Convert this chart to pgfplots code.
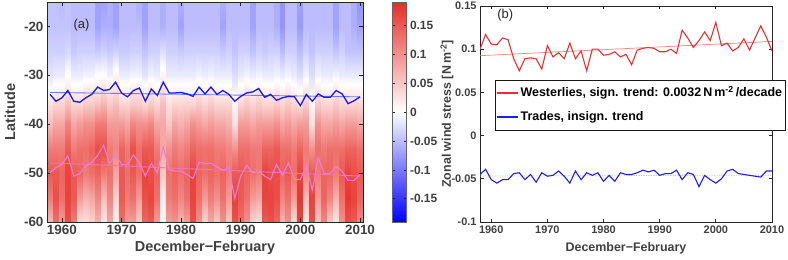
\documentclass[border=0pt]{standalone}
\usepackage{fontspec}
\setmainfont{Liberation Sans}
\usepackage{pgfplots}
\pgfplotsset{compat=1.18}
\definecolor{txt}{RGB}{64,64,64}
\definecolor{lblue}{RGB}{25,25,235}
\definecolor{lbluet}{RGB}{110,125,255}
\definecolor{lpink}{RGB}{238,125,215}
\definecolor{lpinkt}{RGB}{242,120,170}
\definecolor{rred}{RGB}{240,45,45}
\definecolor{rredt}{RGB}{255,130,130}
\definecolor{rblue}{RGB}{30,30,240}
\definecolor{rbluet}{RGB}{170,180,255}
\pgfplotsset{
  colormap={bwr}{rgb255(0)=(0,0,255) rgb255(1)=(255,255,255) rgb255(2)=(230,45,38)},
  myaxis/.style={
    scale only axis,
    anchor=south west,
    axis line style={draw=black!85, line width=0.8bp},
    tick style={draw=black!85, line width=0.7bp},
    major tick length=3.5bp,
    tick align=inside,
    tick label style={color=txt},
    label style={color=txt},
  }
}
\begin{document}
\begin{tikzpicture}
\path[use as bounding box] (0,0) rectangle (788bp,260bp);
% ---------------- panel (a)
\begin{axis}[myaxis,
  at={(47bp,38bp)}, width=316bp, height=220bp,
  xmin=1957.5, xmax=2010.5, ymin=-60, ymax=-15,
  xtick={1960,1970,1980,1990,2000,2010},
  xticklabels={1960,1970,1980,1990,2000,2010},
  ytick={-60,-50,-40,-30,-20},
  yticklabels={-60,-50,-40,-30,-20},
  tick label style={font=\fontsize{13.5}{15}\selectfont\bfseries},
  xlabel={December−February},
  ylabel={Latitude},
  label style={font=\fontsize{14.5}{16}\selectfont\bfseries},
  xlabel style={at={(axis description cs:0.5,-0.118)}, anchor=center},
  ylabel style={at={(axis description cs:-0.117,0.5)}, anchor=center, rotate=0},
  colormap name=bwr,
  point meta min=-0.19, point meta max=0.19,
  colorbar,
  colorbar style={
    at={(parent axis.north east)}, anchor=north west, xshift=21bp,
    width=14bp,
    axis line style={draw=black!60, line width=0.6bp},
    ytick={-0.15,-0.1,-0.05,0,0.05,0.1,0.15},
    yticklabels={-0.15,-0.1,-0.05,0,0.05,0.1,0.15},
    yticklabel style={font=\fontsize{12}{14}\selectfont\bfseries, color=txt},
    major tick length=2.5bp,
  },
  axis on top,
]
\foreach \yr/\va/\vb/\vc/\vd/\ve/\vf/\vg/\vh/\vi/\vj/\vk in {
1958/0.06/0.12/0.15/0.12/0.06/0.03/0.00/-0.02/-0.035/-0.045/-0.045,
1959/0.13/0.16/0.15/0.12/0.08/0.04/0.01/-0.015/-0.035/-0.045/-0.045,
1960/0.09/0.13/0.14/0.12/0.08/0.04/0.01/-0.015/-0.035/-0.045/-0.05,
1961/0.16/0.17/0.17/0.15/0.11/0.06/0.02/0.00/-0.03/-0.045/-0.045,
1962/0.12/0.15/0.15/0.12/0.08/0.04/0.01/-0.015/-0.04/-0.05/-0.05,
1963/0.03/0.09/0.14/0.13/0.09/0.04/0.01/-0.015/-0.035/-0.05/-0.05,
1964/0.03/0.07/0.12/0.13/0.10/0.05/0.02/-0.01/-0.035/-0.05/-0.05,
1965/0.04/0.08/0.13/0.14/0.10/0.05/0.02/-0.01/-0.035/-0.05/-0.05,
1966/0.07/0.11/0.14/0.16/0.12/0.06/0.02/0.00/-0.04/-0.07/-0.07,
1967/0.02/0.06/0.12/0.16/0.12/0.07/0.03/0.00/-0.035/-0.06/-0.07,
1968/0.08/0.11/0.13/0.12/0.09/0.05/0.02/-0.01/-0.04/-0.06/-0.06,
1969/0.01/0.04/0.08/0.11/0.09/0.06/0.03/0.01/-0.035/-0.07/-0.07,
1970/0.13/0.15/0.15/0.14/0.09/0.04/0.01/-0.015/-0.04/-0.05/-0.05,
1971/0.09/0.12/0.13/0.12/0.08/0.04/0.01/-0.015/-0.04/-0.05/-0.05,
1972/0.09/0.13/0.15/0.16/0.11/0.05/0.02/-0.01/-0.035/-0.05/-0.05,
1973/0.05/0.09/0.13/0.13/0.10/0.05/0.02/-0.01/-0.035/-0.05/-0.06,
1974/0.14/0.16/0.17/0.15/0.10/0.04/0.01/-0.02/-0.045/-0.07/-0.07,
1975/0.15/0.17/0.16/0.15/0.11/0.05/0.02/-0.01/-0.035/-0.05/-0.05,
1976/0.09/0.13/0.14/0.12/0.08/0.04/0.01/-0.015/-0.035/-0.05/-0.05,
1977/0.01/0.02/0.05/0.08/0.08/0.06/0.03/0.01/-0.025/-0.06/-0.06,
1978/0.09/0.12/0.13/0.10/0.05/0.03/0.01/-0.015/-0.035/-0.05/-0.05,
1979/0.10/0.13/0.14/0.12/0.08/0.04/0.01/-0.015/-0.035/-0.05/-0.05,
1980/0.07/0.11/0.13/0.11/0.07/0.04/0.01/-0.015/-0.04/-0.07/-0.06,
1981/0.09/0.13/0.14/0.12/0.08/0.04/0.01/-0.015/-0.035/-0.05/-0.05,
1982/0.16/0.17/0.17/0.14/0.10/0.04/0.01/-0.015/-0.035/-0.05/-0.05,
1983/0.10/0.13/0.14/0.13/0.09/0.05/0.02/-0.01/-0.035/-0.05/-0.05,
1984/0.04/0.09/0.13/0.13/0.08/0.04/0.01/-0.015/-0.035/-0.05/-0.05,
1985/0.08/0.12/0.14/0.13/0.09/0.05/0.02/-0.01/-0.035/-0.05/-0.05,
1986/0.05/0.10/0.13/0.12/0.08/0.04/0.01/-0.015/-0.035/-0.05/-0.05,
1987/0.10/0.13/0.14/0.12/0.08/0.04/0.01/-0.015/-0.04/-0.07/-0.06,
1988/0.05/0.09/0.12/0.11/0.07/0.04/0.01/-0.015/-0.035/-0.05/-0.05,
1989/0.16/0.17/0.15/0.10/0.03/0.01/-0.01/-0.025/-0.045/-0.05/-0.05,
1990/0.13/0.15/0.15/0.13/0.09/0.04/0.01/-0.015/-0.035/-0.05/-0.05,
1991/0.10/0.13/0.14/0.13/0.09/0.05/0.02/-0.01/-0.035/-0.05/-0.05,
1992/0.04/0.09/0.13/0.12/0.08/0.04/0.01/-0.015/-0.045/-0.07/-0.07,
1993/0.03/0.08/0.12/0.12/0.09/0.05/0.02/-0.01/-0.035/-0.05/-0.05,
1994/0.15/0.17/0.17/0.14/0.09/0.04/0.01/-0.015/-0.04/-0.05/-0.05,
1995/0.16/0.17/0.16/0.14/0.09/0.04/0.01/-0.015/-0.035/-0.05/-0.05,
1996/0.14/0.16/0.16/0.15/0.10/0.05/0.02/-0.01/-0.035/-0.06/-0.06,
1997/0.07/0.11/0.14/0.13/0.08/0.04/0.01/-0.015/-0.05/-0.08/-0.08,
1998/0.10/0.13/0.15/0.13/0.09/0.05/0.02/-0.01/-0.035/-0.05/-0.05,
1999/0.03/0.09/0.13/0.12/0.08/0.04/0.01/-0.015/-0.035/-0.05/-0.05,
2000/0.17/0.18/0.17/0.14/0.09/0.03/0.00/-0.025/-0.05/-0.075/-0.07,
2001/0.02/0.06/0.11/0.12/0.09/0.05/0.02/-0.01/-0.035/-0.05/-0.05,
2002/0.16/0.17/0.15/0.10/0.03/0.01/-0.01/-0.025/-0.045/-0.05/-0.05,
2003/0.05/0.09/0.12/0.13/0.10/0.05/0.02/-0.01/-0.035/-0.05/-0.05,
2004/0.11/0.14/0.14/0.12/0.08/0.04/0.01/-0.015/-0.035/-0.05/-0.05,
2005/0.05/0.11/0.14/0.13/0.08/0.04/0.01/-0.015/-0.035/-0.05/-0.05,
2006/0.02/0.07/0.12/0.13/0.09/0.05/0.02/-0.01/-0.045/-0.07/-0.07,
2007/0.10/0.13/0.15/0.13/0.08/0.04/0.01/-0.015/-0.035/-0.05/-0.05,
2008/0.16/0.18/0.17/0.14/0.09/0.04/0.01/-0.015/-0.045/-0.05/-0.05,
2009/0.15/0.17/0.16/0.14/0.09/0.04/0.01/-0.015/-0.045/-0.06/-0.06,
2010/0.11/0.14/0.15/0.13/0.08/0.04/0.01/-0.015/-0.045/-0.07/-0.08}{
  \pgfmathsetmacro\xa{\yr-0.5}
  \pgfmathsetmacro\xb{\yr+0.53}
  \edef\temp{\noexpand\addplot[surf, shader=interp, mesh/cols=2, point meta=explicit, forget plot] coordinates {
    (\xa,-60)[\va] (\xb,-60)[\va] (\xa,-55)[\vb] (\xb,-55)[\vb]
    (\xa,-50)[\vc] (\xb,-50)[\vc] (\xa,-45)[\vd] (\xb,-45)[\vd]
    (\xa,-40)[\ve] (\xb,-40)[\ve] (\xa,-36)[\vf] (\xb,-36)[\vf]
    (\xa,-33)[\vg] (\xb,-33)[\vg] (\xa,-30)[\vh] (\xb,-30)[\vh]
    (\xa,-25)[\vi] (\xb,-25)[\vi] (\xa,-20)[\vj] (\xb,-20)[\vj]
    (\xa,-15)[\vk] (\xb,-15)[\vk]};}
  \temp
}
% trend lines
\addplot[lbluet, line width=0.9bp, forget plot] coordinates {(1958,-33.5) (2010,-34.4)};
\addplot[lpinkt, line width=0.9bp, forget plot] coordinates {(1958,-47.9) (2010,-50.6)};
% southern edge of trades (blue)
\addplot[lblue, line width=1.3bp, forget plot] coordinates {
(1958,-33.9)(1959,-35.3)(1960,-34.6)(1961,-33.1)(1962,-35.3)(1963,-35.5)(1964,-34.6)(1965,-33.9)
(1966,-32.4)(1967,-33.1)(1968,-32.9)(1969,-31.4)(1970,-33.6)(1971,-34.4)(1972,-33.1)(1973,-32.6)
(1974,-35.3)(1975,-32.8)(1976,-34.1)(1977,-31.4)(1978,-33.6)(1979,-33.6)(1980,-33.5)(1981,-33.8)
(1982,-34.3)(1983,-32.4)(1984,-33.8)(1985,-32.4)(1986,-33.9)(1987,-33.1)(1988,-33.9)(1989,-35.3)
(1990,-34.3)(1991,-33.6)(1992,-33.4)(1993,-32.7)(1994,-34.5)(1995,-33.9)(1996,-35.1)(1997,-34.6)
(1998,-34.3)(1999,-34.4)(2000,-36.2)(2001,-33.9)(2002,-35.3)(2003,-33.8)(2004,-34.5)(2005,-34.5)
(2006,-33.1)(2007,-33.8)(2008,-35.8)(2009,-35.2)(2010,-34.4)};
% westerly jet position (pink)
\addplot[lpink, line width=1.1bp, forget plot] coordinates {
(1958,-49.9)(1959,-48.9)(1960,-48.2)(1961,-46.5)(1962,-50.6)(1963,-50.1)(1964,-48.6)(1965,-47.8)
(1966,-46.4)(1967,-44.3)(1968,-48.0)(1969,-46.3)(1970,-48.2)(1971,-48.2)(1972,-46.3)(1973,-47.9)
(1974,-50.6)(1975,-48.0)(1976,-49.9)(1977,-44.7)(1978,-49.3)(1979,-49.6)(1980,-49.6)(1981,-50.3)
(1982,-51.1)(1983,-47.8)(1984,-48.0)(1985,-48.0)(1986,-48.7)(1987,-49.4)(1988,-48.9)(1989,-55.2)
(1990,-50.6)(1991,-48.4)(1992,-49.9)(1993,-49.6)(1994,-50.6)(1995,-51.3)(1996,-48.2)(1997,-50.5)
(1998,-47.9)(1999,-51.3)(2000,-51.3)(2001,-48.4)(2002,-53.5)(2003,-46.9)(2004,-50.1)(2005,-50.1)
(2006,-48.6)(2007,-49.6)(2008,-51.5)(2009,-51.5)(2010,-50.3)};
\node[font=\fontsize{13}{15}\selectfont, text=black!85] at (axis cs:1963.3,-19.8) {(a)};
\end{axis}
% ---------------- panel (b)
\begin{axis}[myaxis,
  at={(480bp,38bp)}, width=292bp, height=216bp,
  xmin=1958, xmax=2010, ymin=-0.1, ymax=0.15,
  xtick={1960,1970,1980,1990,2000,2010},
  xticklabels={1960,1970,1980,1990,2000,2010},
  ytick={-0.1,-0.05,0,0.05,0.1,0.15},
  yticklabels={-0.1,-0.05,0,0.05,0.1,0.15},
  tick label style={font=\fontsize{11}{13}\selectfont\bfseries},
  xlabel={December−February},
  ylabel={Zonal wind stress [N\,m\textsuperscript{-2}]},
  label style={font=\fontsize{12.5}{14}\selectfont\bfseries},
  xlabel style={at={(axis description cs:0.5,-0.12)}, anchor=center},
  ylabel style={at={(axis description cs:-0.113,0.5)}, anchor=center},
  legend style={at={(axis description cs:0.051,0.659)}, anchor=north west,
    draw=black!90, line width=0.8bp, fill=white,
    font=\fontsize{12.5}{14}\selectfont\bfseries,
    nodes={inner sep=2bp, text height=9.5bp, text depth=2.5bp},
    row sep=8bp, inner xsep=1bp, inner ysep=5bp},
  legend cell align=left,
]
\addplot[rredt, line width=0.7bp, forget plot] coordinates {(1958,0.0925) (2010,0.109)};
\addplot[rbluet, line width=0.7bp, densely dotted, forget plot] coordinates {(1958,-0.0468) (2010,-0.0458)};
\addplot[rred, line width=1.1bp,
  legend image code/.code={\draw[rred, line width=1.3bp] (0bp,0bp) -- (21bp,0bp);}] coordinates {
(1958,0.100)(1959,0.117)(1960,0.106)(1961,0.105)(1962,0.113)(1963,0.111)(1964,0.089)(1965,0.075)
(1966,0.089)(1967,0.090)(1968,0.089)(1969,0.077)(1970,0.104)(1971,0.091)(1972,0.096)(1973,0.089)
(1974,0.107)(1975,0.089)(1976,0.098)(1977,0.075)(1978,0.100)(1979,0.100)(1980,0.093)(1981,0.094)
(1982,0.097)(1983,0.091)(1984,0.094)(1985,0.082)(1986,0.099)(1987,0.101)(1988,0.102)(1989,0.101)
(1990,0.097)(1991,0.097)(1992,0.100)(1993,0.095)(1994,0.122)(1995,0.113)(1996,0.102)(1997,0.110)
(1998,0.120)(1999,0.110)(2000,0.131)(2001,0.104)(2002,0.107)(2003,0.098)(2004,0.102)(2005,0.112)
(2006,0.099)(2007,0.113)(2008,0.127)(2009,0.114)(2010,0.098)};
\addlegendentry{Westerlies, sign. trend: 0.0032\,N\,m\textsuperscript{-2}\,/decade}
\addplot[rblue, line width=1.1bp,
  legend image code/.code={\draw[rblue, line width=1.3bp] (0bp,0bp) -- (21bp,0bp);}] coordinates {
(1958,-0.045)(1959,-0.039)(1960,-0.051)(1961,-0.055)(1962,-0.051)(1963,-0.051)(1964,-0.044)(1965,-0.043)
(1966,-0.051)(1967,-0.045)(1968,-0.054)(1969,-0.043)(1970,-0.047)(1971,-0.046)(1972,-0.041)(1973,-0.047)
(1974,-0.055)(1975,-0.041)(1976,-0.051)(1977,-0.043)(1978,-0.046)(1979,-0.043)(1980,-0.053)(1981,-0.046)
(1982,-0.053)(1983,-0.043)(1984,-0.045)(1985,-0.045)(1986,-0.043)(1987,-0.040)(1988,-0.042)(1989,-0.040)
(1990,-0.046)(1991,-0.044)(1992,-0.044)(1993,-0.040)(1994,-0.051)(1995,-0.043)(1996,-0.045)(1997,-0.059)
(1998,-0.046)(1999,-0.051)(2000,-0.055)(2001,-0.050)(2002,-0.041)(2003,-0.039)(2004,-0.044)(2005,-0.045)
(2006,-0.046)(2007,-0.047)(2008,-0.048)(2009,-0.041)(2010,-0.041)};
\addlegendentry{Trades, insign. trend}
\node[font=\fontsize{13}{15}\selectfont, text=black!85] at (axis cs:1962.5,0.139) {(b)};
\end{axis}
\end{tikzpicture}
\end{document}
